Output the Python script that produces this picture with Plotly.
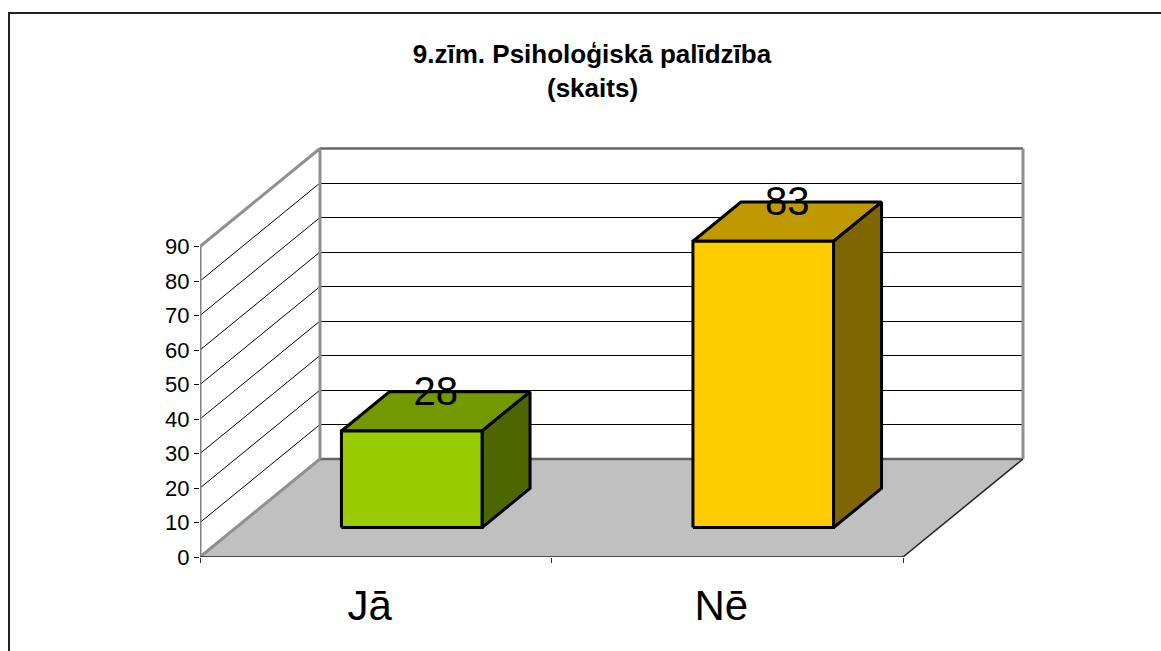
import plotly.graph_objects as go

categories = ["Jā", "Nē"]
values = [28, 83]
y_ticks = [0, 10, 20, 30, 40, 50, 60, 70, 80, 90]
title_lines = ["9.zīm. Psiholoģiskā palīdzība", "(skaits)"]

front_colors = ["#99CC00", "#FFCC00"]
top_colors = ["#739900", "#BF9900"]
side_colors = ["#4D6600", "#806600"]

W, H = 1161, 651
L, R_PX, T, B_PX = 200, 1040, 140, 557   # plot area in the page
PX_PER_CAT = 351.5
PX_PER_UNIT = 3.45
DEPTH_X = 120 / PX_PER_CAT     # oblique projection: full depth in axis units
DEPTH_Y = 98 / PX_PER_UNIT
BAR_HALF = 0.2
BAR_D0, BAR_D1 = 0.3, 0.7
Y_MAX = max(y_ticks)
X_MAX = len(categories)


def pr(cat, val, depth):
    return cat + depth * DEPTH_X, val + depth * DEPTH_Y


def poly(points):
    pts = [pr(*p) for p in points]
    pts.append(pts[0])
    return [p[0] for p in pts], [p[1] for p in pts]


def seg(a, b, color, width):
    x, y = zip(pr(*a), pr(*b))
    return go.Scatter(x=list(x), y=list(y), mode="lines", line=dict(color=color, width=width),
                      hoverinfo="skip", showlegend=False, cliponaxis=False)


fig = go.Figure()

# floor
x, y = poly([(0, 0, 0), (X_MAX, 0, 0), (X_MAX, 0, 1), (0, 0, 1)])
fig.add_trace(go.Scatter(x=x, y=y, mode="lines", fill="toself", fillcolor="#C0C0C0",
                         line=dict(width=0), hoverinfo="skip", showlegend=False))

# grid on left wall and back wall
for t in y_ticks[1:]:
    fig.add_trace(seg((0, t, 0), (0, t, 1), "#000000", 1))
    fig.add_trace(seg((0, t, 1), (X_MAX, t, 1), "#000000", 1))

# wall frame
fig.add_trace(seg((0, 0, 1), (X_MAX, 0, 1), "#666666", 2.5))
fig.add_trace(seg((0, Y_MAX, 1), (X_MAX, Y_MAX, 1), "#666666", 2.5))
fig.add_trace(seg((0, 0, 1), (0, Y_MAX, 1), "#909090", 3))
fig.add_trace(seg((X_MAX, 0, 1), (X_MAX, Y_MAX, 1), "#909090", 3))
fig.add_trace(seg((0, 0, 0), (0, Y_MAX, 0), "#808080", 3))
fig.add_trace(seg((0, Y_MAX, 0), (0, Y_MAX, 1), "#909090", 3))
fig.add_trace(seg((0, 0, 0), (0, 0, 1), "#909090", 3))
fig.add_trace(seg((0, 0, 0), (X_MAX, 0, 0), "#222222", 1.5))
fig.add_trace(seg((X_MAX, 0, 0), (X_MAX, 0, 1), "#222222", 1.5))

# bars
for i, v in enumerate(values):
    c0, c1 = i + 0.5 - BAR_HALF, i + 0.5 + BAR_HALF
    faces = [
        ([(c0, v, BAR_D0), (c1, v, BAR_D0), (c1, v, BAR_D1), (c0, v, BAR_D1)], top_colors[i]),
        ([(c1, 0, BAR_D0), (c1, 0, BAR_D1), (c1, v, BAR_D1), (c1, v, BAR_D0)], side_colors[i]),
        ([(c0, 0, BAR_D0), (c1, 0, BAR_D0), (c1, v, BAR_D0), (c0, v, BAR_D0)], front_colors[i]),
    ]
    for pts, col in faces:
        x, y = poly(pts)
        fig.add_trace(go.Scatter(x=x, y=y, mode="lines", fill="toself", fillcolor=col,
                                 line=dict(color="#000000", width=3),
                                 hoverinfo="skip", showlegend=False))

# data labels
lx = [i + 0.5 + 0.5 * DEPTH_X for i in range(len(values))]
ly = [v + BAR_D1 * DEPTH_Y - 0.9 for v in values]
fig.add_trace(go.Scatter(x=lx, y=ly, mode="text", text=[str(v) for v in values],
                         textposition="middle center",
                         textfont=dict(family="Liberation Sans", size=40, color="#000000"),
                         hoverinfo="skip", showlegend=False))

# invisible trace binding category labels to the second x axis
fig.add_trace(go.Scatter(x=[i + 0.5 for i in range(len(categories))], y=[0] * len(categories),
                         xaxis="x2", mode="markers", marker=dict(opacity=0),
                         hoverinfo="skip", showlegend=False))

xr = [0, (R_PX - L) / PX_PER_CAT]
yr = [0, (B_PX - T) / PX_PER_UNIT]


def paper_x(px):
    return (px - L) / (R_PX - L)


def paper_y(py):
    return (B_PX - py) / (B_PX - T)


fig.update_layout(
    width=W, height=H, autosize=False,
    margin=dict(l=L, r=W - R_PX, t=T, b=H - B_PX),
    paper_bgcolor="#FFFFFF", plot_bgcolor="rgba(0,0,0,0)",
    font=dict(family="Liberation Sans", color="#000000"),
    showlegend=False,
    title=dict(text=f"<b>{title_lines[0]}</b>", font=dict(family="Liberation Sans", size=26),
               x=paper_x(592), xref="paper", xanchor="center",
               y=1 - 54 / H, yref="container", yanchor="middle"),
    annotations=[dict(text=f"<b>{title_lines[1]}</b>", xref="paper", yref="paper",
                      x=paper_x(592), y=paper_y(88), showarrow=False,
                      xanchor="center", yanchor="middle",
                      font=dict(family="Liberation Sans", size=26))],
    shapes=[
        dict(type="line", xref="paper", yref="paper", x0=paper_x(9), x1=paper_x(W),
             y0=paper_y(13), y1=paper_y(13), line=dict(color="#222222", width=2)),
        dict(type="line", xref="paper", yref="paper", x0=paper_x(9), x1=paper_x(9),
             y0=paper_y(12), y1=paper_y(H), line=dict(color="#222222", width=2)),
    ],
    xaxis=dict(range=xr, tickmode="array", tickvals=list(range(X_MAX + 1)),
               ticktext=[""] * (X_MAX + 1), ticks="outside", ticklen=5, tickwidth=1,
               tickcolor="#333333", showgrid=False, zeroline=False, showline=False),
    xaxis2=dict(range=xr, overlaying="x", anchor="y", side="bottom", tickmode="array",
                tickvals=[i + 0.5 for i in range(len(categories))], ticktext=categories,
                ticks="", ticklabelstandoff=20, ticklabelshift=-6,
                tickfont=dict(family="Liberation Sans", size=42, color="#000000"),
                showgrid=False, zeroline=False, showline=False),
    yaxis=dict(range=yr, tickmode="array", tickvals=y_ticks, ticks="outside", ticklen=5,
               tickwidth=1, tickcolor="#000000",
               tickfont=dict(family="Liberation Sans", size=22, color="#000000"),
               showgrid=False, zeroline=False, showline=False),
)

# Keep the thin horizontal grid lines on whole pixels, as in the reference.
post = """
document.body.style.margin='0';
setTimeout(function(){
  document.querySelectorAll('.scatterlayer path.js-line').forEach(function(p){
    if (parseFloat(p.style.strokeWidth) !== 1) return;
    var n = (p.getAttribute('d') || '').match(/-?[0-9.]+/g);
    if (n && n.length === 4 && Math.abs(n[1]-n[3]) < 0.01) p.style.shapeRendering = 'crispEdges';
  });
}, 50);
"""
fig.write_html("out.html", config={"displayModeBar": False}, post_script=post)
